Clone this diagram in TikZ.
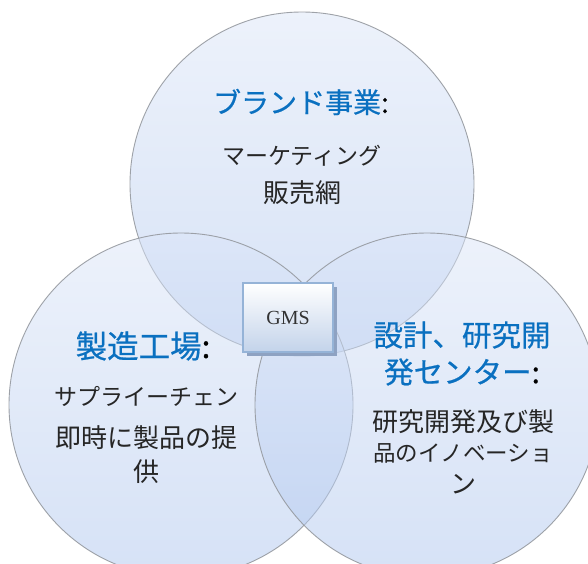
\documentclass[tikz,border=0pt]{standalone}
\usepackage{fontspec}
\setmainfont{Liberation Serif}
\newfontfamily\jp{Noto Sans CJK JP}
\newfontfamily\jph[FakeBold=0.6]{Noto Sans CJK JP}
\definecolor{cTop}{HTML}{DCE6F8}
\definecolor{cBot}{HTML}{AEC6EF}
\definecolor{cEdge}{HTML}{95999F}
\definecolor{hblue}{HTML}{0A70C0}
\definecolor{boxedge}{HTML}{95B3D7}
\definecolor{boxbot}{HTML}{C3D3EA}
\definecolor{boxshadow}{HTML}{8EA2C2}
\begin{document}
\begin{tikzpicture}[x=1pt,y=-1pt,
  venn/.style={circle, minimum size=344pt, inner sep=0pt, top color=cTop, bottom color=cBot, fill opacity=0.5, draw=cEdge, draw opacity=0.9, line width=0.9pt},
  head/.style={font=\jph\fontsize{28}{32}\selectfont, text=hblue, inner sep=0pt, anchor=center},
  body/.style={font=\jp\fontsize{26}{30}\selectfont, text=black!85, inner sep=0pt, anchor=center},
  kana/.style={body, font=\jp\fontsize{23}{30}\selectfont},
  gmsbox/.style={rectangle, minimum width=90pt, minimum height=69pt, inner sep=0pt, top color=white, bottom color=boxbot, draw=boxedge, line width=1.6pt, font=\fontsize{20}{22}\selectfont, text=black!80}
]
\useasboundingbox (0,0) rectangle (588,563);
\fill[white] (0,0) rectangle (588,563);
\begin{scope}
\clip (0,0) rectangle (588,563);
\node[venn] (ctop) at (302,184) {};
\node[venn] (cleft) at (181,405) {};
\node[venn] (cright) at (427,405) {};
\end{scope}
% top texts
\node[head] (h1) at (301,102) {ブランド事業{\color{black}:}};
\node[kana] (b11) at (302,156) {マーケティング};
\node[body] (b12) at (302,193) {販売網};
% left texts
\node[head, font=\jph\fontsize{31.5}{34}\selectfont] (h2) at (143,346) {製造工場{\color{black}:}};
\node[kana] (b21) at (146,396) {サプライーチェン};
\node[body] (b22) at (146,438) {即時に製品の提};
\node[body] (b23) at (146,472) {供};
% right texts
\node[head, font=\jph\fontsize{29.5}{32}\selectfont] (h3a) at (462,335) {設計、研究開};
\node[head, font=\jph\fontsize{29.5}{32}\selectfont] (h3b) at (462,372) {発センター{\color{black}:}};
\node[body] (b31) at (463,422) {研究開発及び製};
\node[kana, font=\jp\fontsize{22.5}{30}\selectfont] (b32) at (463,453) {品のイノベーショ};
\node[body] (b33) at (463,484) {ン};
% GMS box
\fill[boxshadow] (247,287) rectangle (337,356);
\node[gmsbox] (gms) at (288,317.5) {GMS};
\end{tikzpicture}
\end{document}
